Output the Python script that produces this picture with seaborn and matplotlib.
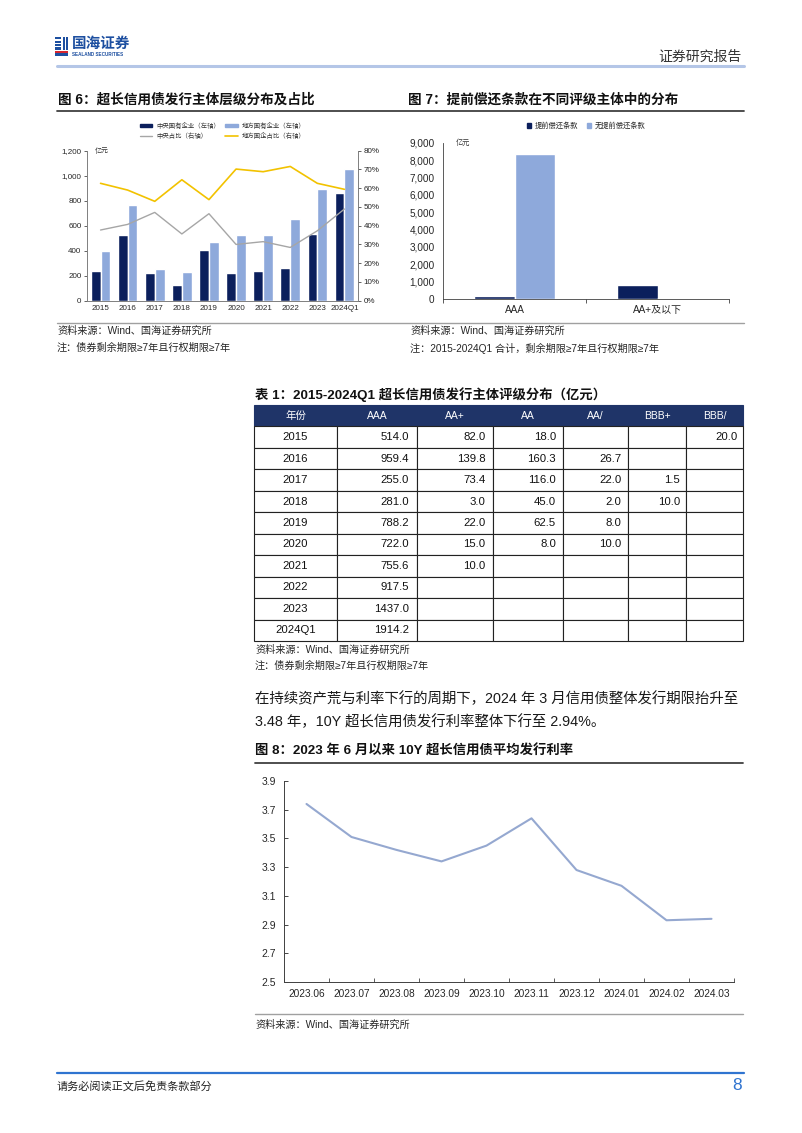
import numpy as np
import pandas as pd
import matplotlib
matplotlib.use("Agg")
import matplotlib.pyplot as plt
import matplotlib.patches as mpatches
from matplotlib.lines import Line2D
from matplotlib.ticker import FuncFormatter, MultipleLocator, FixedLocator
import seaborn as sns

# ---------------- data ----------------
years6 = ['2015', '2016', '2017', '2018', '2019', '2020', '2021', '2022', '2023', '2024Q1']
central = [240, 525, 224, 125, 408, 224, 240, 259, 536, 859]
local = [400, 763, 251, 227, 469, 528, 523, 653, 896, 1053]
central_share = [37.7, 40.7, 47.1, 35.6, 46.4, 30.0, 31.5, 28.4, 37.3, 48.9]
local_share = [62.6, 59.0, 53.0, 64.5, 53.9, 70.2, 68.8, 71.6, 62.6, 59.4]

ratings7 = ['AAA', 'AA+及以下']
with_call = [150, 785]
without_call = [8350, 60]

table_header = ['年份', 'AAA', 'AA+', 'AA', 'AA/', 'BBB+', 'BBB/']
table_years = ['2015', '2016', '2017', '2018', '2019', '2020', '2021', '2022', '2023', '2024Q1']
col_AAA = ['514.0', '959.4', '255.0', '281.0', '788.2', '722.0', '755.6', '917.5', '1437.0', '1914.2']
col_AAp = ['82.0', '139.8', '73.4', '3.0', '22.0', '15.0', '10.0', '', '', '']
col_AA = ['18.0', '160.3', '116.0', '45.0', '62.5', '8.0', '', '', '', '']
col_AAs = ['', '26.7', '22.0', '2.0', '8.0', '10.0', '', '', '', '']
col_BBBp = ['', '', '1.5', '10.0', '', '', '', '', '', '']
col_BBBs = ['20.0', '', '', '', '', '', '', '', '', '']

months8 = ['2023.06', '2023.07', '2023.08', '2023.09', '2023.10',
           '2023.11', '2023.12', '2024.01', '2024.02', '2024.03']
rates8 = [3.74, 3.51, 3.42, 3.34, 3.45, 3.64, 3.28, 3.17, 2.93, 2.94]

# ---------------- style ----------------
sns.set_theme(style="white")
plt.rcParams['font.family'] = ['Liberation Sans', 'Noto Sans CJK SC', 'DejaVu Sans']
plt.rcParams['axes.unicode_minus'] = False

W, H = 802, 1133
fig = plt.figure(figsize=(W / 100, H / 100), dpi=100)
fig.patch.set_facecolor('white')

DARK = '#0B1F5C'
LIGHT = '#8EA9DB'
GRAY = '#A6A6A6'
GOLD = '#F2C200'
TXT = '#262626'


def ax_px(l, t, r, b):
    return fig.add_axes([l / W, 1 - b / H, (r - l) / W, (b - t) / H])


def ftext(x, y, s, **kw):
    kw.setdefault('va', 'center')
    kw.setdefault('color', TXT)
    return fig.text(x / W, 1 - y / H, s, **kw)


def hline(y, x0, x1, color, lw):
    fig.add_artist(Line2D([x0 / W, x1 / W], [1 - y / H, 1 - y / H],
                          color=color, lw=lw, transform=fig.transFigure))


def rect(x0, y0, x1, y1, color):
    fig.add_artist(mpatches.Rectangle((x0 / W, 1 - y1 / H), (x1 - x0) / W, (y1 - y0) / H,
                                      color=color, transform=fig.transFigure, lw=0))


# ---------------- header ----------------
LOGO = '#1D4FA0'
for yy in (37, 40.5, 44):
    rect(55, yy, 61, yy + 2, LOGO)
rect(62.5, 37, 64.5, 50, LOGO)
rect(66, 37, 68, 50, LOGO)
rect(55, 47, 61, 50, LOGO)
rect(55, 51, 68, 53, '#D7262E')
rect(55, 53.5, 68, 56, LOGO)
ftext(72, 44, '国海证券', fontsize=10.5, fontweight='bold', color=LOGO)
ftext(72, 54, 'SEALAND SECURITIES', fontsize=3.3, fontweight='bold', color=LOGO)
ftext(742, 57, '证券研究报告', fontsize=10, ha='right', color='#333333')
hline(66, 57, 744, '#B4C6E7', 2.2)

# ---------------- titles row ----------------
ftext(58, 100, '图 6：超长信用债发行主体层级分布及占比', fontsize=9.8, fontweight='bold', color='#111111')
ftext(408, 100, '图 7：提前偿还条款在不同评级主体中的分布', fontsize=9.8, fontweight='bold', color='#111111')
hline(111, 57, 744, '#404040', 1.3)

# ---------------- chart 6 ----------------
ax6 = ax_px(87, 150.7, 358, 300.7)
df6 = pd.DataFrame({
    'year': years6 * 2,
    'value': central + local,
    'type': ['中央国有企业（左轴）'] * len(years6) + ['地方国有企业（左轴）'] * len(years6),
})
sns.barplot(data=df6, x='year', y='value', hue='type', palette=[DARK, LIGHT],
            width=0.72, gap=0.0, ax=ax6, legend=False, saturation=1)
ax6.set_ylim(0, 1200)
ax6.set_xlim(-0.5, len(years6) - 0.5)
ax6.yaxis.set_major_locator(MultipleLocator(200))
ax6.yaxis.set_major_formatter(FuncFormatter(lambda v, p: f'{int(v):,}'))
ax6.set_xlabel('')
ax6.set_ylabel('')
ax6.tick_params(axis='y', labelsize=5.8, colors=TXT, length=2, direction='out', width=0.5, pad=2)
ax6.tick_params(axis='x', labelsize=5.8, colors=TXT, length=0, pad=3)
ax6.spines['top'].set_visible(False)
for s in ['left', 'right', 'bottom']:
    ax6.spines[s].set_color('#7F7F7F')
    ax6.spines[s].set_linewidth(0.6)

ax6r = ax6.twinx()
xs = np.arange(len(years6))
sns.lineplot(x=xs, y=np.array(central_share) / 100, ax=ax6r, color=GRAY, lw=1.0)
sns.lineplot(x=xs, y=np.array(local_share) / 100, ax=ax6r, color=GOLD, lw=1.2)
ax6r.set_ylim(0, 0.8)
ax6r.yaxis.set_major_locator(MultipleLocator(0.1))
ax6r.yaxis.set_major_formatter(FuncFormatter(lambda v, p: f'{v * 100:.0f}%'))
ax6r.tick_params(axis='y', labelsize=5.8, colors=TXT, length=2, width=0.5, pad=2)
ax6r.set_ylabel('')
ax6r.set_xlabel('')
ax6r.spines['top'].set_visible(False)
for s in ['left', 'right', 'bottom']:
    ax6r.spines[s].set_color('#7F7F7F')
    ax6r.spines[s].set_linewidth(0.6)
ax6r.set_xlim(-0.5, len(years6) - 0.5)

handles6 = [
    mpatches.Patch(color=DARK, label='中央国有企业（左轴）'),
    Line2D([], [], color=GRAY, lw=1.0, label='中央占比（右轴）'),
    mpatches.Patch(color=LIGHT, label='地方国有企业（左轴）'),
    Line2D([], [], color=GOLD, lw=1.2, label='地方国企占比（右轴）'),
]
leg6 = ax6r.legend(handles=handles6, ncol=2, loc='lower center', bbox_to_anchor=(0.5, 1.04),
                   frameon=False, fontsize=4.6, handlelength=2.0, handleheight=0.5,
                   columnspacing=0.8, handletextpad=0.6, labelspacing=0.5)
for t in leg6.get_texts():
    t.set_color('#333333')
ftext(95, 151, '亿元', fontsize=5, color='#333333')

# ---------------- chart 7 ----------------
ax7 = ax_px(443, 142.7, 729, 299)
df7 = pd.DataFrame({
    'rating': ratings7 * 2,
    'value': with_call + without_call,
    'type': ['提前偿还条款'] * 2 + ['无提前偿还条款'] * 2,
})
sns.barplot(data=df7, x='rating', y='value', hue='type', palette=[DARK, LIGHT],
            width=0.56, gap=0.0, ax=ax7, legend=False, saturation=1)
ax7.set_ylim(0, 9000)
ax7.set_xlim(-0.5, 1.5)
ax7.yaxis.set_major_locator(MultipleLocator(1000))
ax7.yaxis.set_major_formatter(FuncFormatter(lambda v, p: f'{int(v):,}'))
ax7.set_xlabel('')
ax7.set_ylabel('')
ax7.tick_params(axis='y', labelsize=7.2, colors=TXT, length=3, width=0.6, pad=3)
ax7.tick_params(axis='x', which='major', labelsize=7.2, colors=TXT, length=0, pad=4)
ax7.xaxis.set_minor_locator(FixedLocator([-0.5, 0.5, 1.5]))
ax7.tick_params(axis='x', which='minor', length=3, width=0.6, color='#404040', direction='out', bottom=True)
for s in ['top', 'right']:
    ax7.spines[s].set_visible(False)
for s in ['left', 'bottom']:
    ax7.spines[s].set_color('#404040')
    ax7.spines[s].set_linewidth(0.6)
handles7 = [mpatches.Patch(color=DARK, label='提前偿还条款'),
            mpatches.Patch(color=LIGHT, label='无提前偿还条款')]
leg7 = ax7.legend(handles=handles7, ncol=2, loc='lower center', bbox_to_anchor=(0.5, 1.04),
                  frameon=False, fontsize=5.2, handlelength=0.6, handleheight=0.6,
                  columnspacing=1.2, handletextpad=0.5)
ftext(456, 143, '亿元', fontsize=5.2, color='#333333')

# ---------------- source lines (row 1) ----------------
hline(323, 57, 744, '#A0A0A0', 1.0)
ftext(57, 331, '资料来源：Wind、国海证券研究所', fontsize=7.3)
ftext(57, 348, '注：债券剩余期限≥7年且行权期限≥7年', fontsize=7.3)
ftext(410, 331, '资料来源：Wind、国海证券研究所', fontsize=7.3)
ftext(410, 348, '注：2015-2024Q1 合计，剩余期限≥7年且行权期限≥7年', fontsize=7.3)

# ---------------- table ----------------
ftext(255, 395, '表 1：2015-2024Q1 超长信用债发行主体评级分布（亿元）', fontsize=9.6,
      fontweight='bold', color='#111111')
axt = ax_px(254, 405, 743, 641)
axt.axis('off')
cols = [col_AAA, col_AAp, col_AA, col_AAs, col_BBBp, col_BBBs]
cell_text = [[table_years[i]] + [c[i] for c in cols] for i in range(len(table_years))]
col_px = [83, 80, 76, 70, 65, 58, 57]
col_w = [c / sum(col_px) for c in col_px]
tbl = axt.table(cellText=cell_text, colLabels=table_header, colWidths=col_w,
                bbox=[0, 0, 1, 1], cellLoc='right')
tbl.auto_set_font_size(False)
HEAD = '#1F3468'
for (r, c), cell in tbl.get_celld().items():
    cell.set_linewidth(0.8)
    cell.set_edgecolor('#222222')
    cell.PAD = 0.1
    if r == 0:
        cell.set_facecolor(HEAD)
        cell.set_edgecolor(HEAD)
        cell.get_text().set_color('white')
        cell.get_text().set_fontsize(7.5)
        cell.get_text().set_ha('center')
        cell._loc = 'center'
    else:
        cell.set_facecolor('white')
        cell.get_text().set_color('#111111')
        cell.get_text().set_fontsize(8.2)
        if c == 0:
            cell.get_text().set_ha('center')
            cell._loc = 'center'

ftext(255, 650, '资料来源：Wind、国海证券研究所', fontsize=7.3)
ftext(255, 666, '注：债券剩余期限≥7年且行权期限≥7年', fontsize=7.3)

# ---------------- paragraph ----------------
ftext(255, 699, '在持续资产荒与利率下行的周期下，2024 年 3 月信用债整体发行期限抬升至',
      fontsize=10.4, color='#1a1a1a')
ftext(255, 722, '3.48 年，10Y 超长信用债发行利率整体下行至 2.94%。', fontsize=10.4, color='#1a1a1a')

# ---------------- chart 8 ----------------
ftext(255, 751, '图 8：2023 年 6 月以来 10Y 超长信用债平均发行利率', fontsize=9.6,
      fontweight='bold', color='#111111')
hline(763, 255, 743, '#404040', 1.3)
ax8 = ax_px(284, 781, 734, 982)
x8 = np.arange(len(months8))
sns.lineplot(x=x8, y=rates8, ax=ax8, color='#95A8D0', lw=1.5)
ax8.set_ylim(2.5, 3.9)
ax8.set_xlim(-0.5, len(months8) - 0.5)
ax8.set_yticks(np.arange(2.5, 3.91, 0.2))
ax8.yaxis.set_major_formatter(FuncFormatter(lambda v, p: f'{v:.1f}'))
ax8.set_xticks(x8)
ax8.set_xticklabels(months8)
ax8.xaxis.set_minor_locator(FixedLocator(np.arange(-0.5, len(months8), 1.0)))
ax8.tick_params(axis='x', which='major', labelsize=7.3, colors=TXT, length=0, pad=5)
ax8.tick_params(axis='x', which='minor', length=3, width=0.6, color='#404040', direction='in', bottom=True)
ax8.tick_params(axis='y', labelsize=7.5, colors=TXT, length=3, width=0.6, direction='in', left=True, pad=6)
ax8.set_xlabel('')
ax8.set_ylabel('')
for s in ['top', 'right']:
    ax8.spines[s].set_visible(False)
for s in ['left', 'bottom']:
    ax8.spines[s].set_color('#404040')
    ax8.spines[s].set_linewidth(0.7)
hline(1014, 255, 743, '#A0A0A0', 1.0)
ftext(255, 1025, '资料来源：Wind、国海证券研究所', fontsize=7.3)

# ---------------- footer ----------------
hline(1073, 57, 744, '#2F74D0', 1.6)
ftext(57, 1086, '请务必阅读正文后免责条款部分', fontsize=8, color='#222222')
ftext(742, 1085, '8', fontsize=12.5, ha='right', color='#2F74D0')

fig.savefig('out.png', dpi=100, facecolor='white')
